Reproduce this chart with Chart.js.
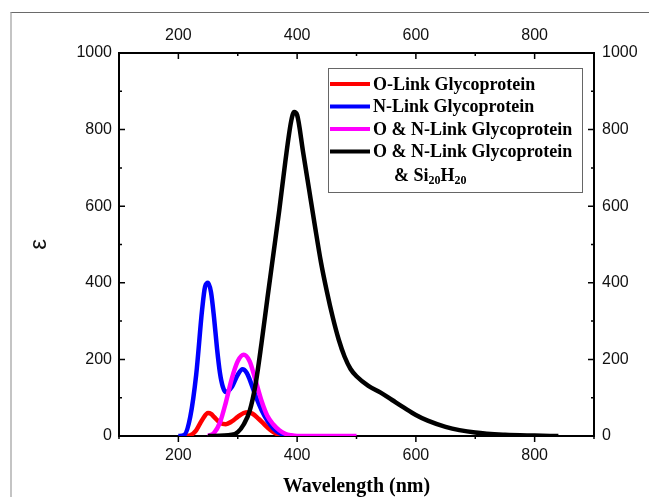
<!DOCTYPE html>
<html>
<head>
<meta charset="utf-8">
<script src="https://cdn.jsdelivr.net/npm/chart.js@4/dist/chart.umd.min.js"></script>
<style>
  body { margin: 0; background: #fff; }
  #wrap { position: relative; width: 649px; height: 497px; overflow: hidden; }
  #frame { position: absolute; left: 10px; top: 12px; width: 700px; height: 600px;
           border-left: 2px solid #c4c4c4; border-top: 1px solid #6a6a6a; }
  #box { position: absolute; left: 0; top: 0; width: 649px; height: 497px; }
</style>
</head>
<body>
<div id="wrap">
  <div id="frame"></div>
  <div id="box"><canvas id="chart"></canvas></div>
</div>
<script>
// wavelength (nm) / epsilon pairs
const redX = [210, 220, 230, 240, 250, 255, 260, 270, 280, 290, 300, 310, 318, 325, 335, 345, 355, 365, 375, 385];
const redY = [0, 2, 15, 42, 60, 58, 50, 35, 31, 38, 50, 60, 62, 58, 45, 30, 16, 6, 1, 0];

const blueX = [200, 210, 220, 230, 240, 245, 250, 255, 260, 265, 270, 275, 280, 290, 300, 308, 315, 320, 330, 340, 350, 360, 370, 380, 390];
const blueY = [0, 3, 50, 160, 330, 390, 400, 375, 310, 230, 165, 128, 115, 128, 160, 174, 165, 148, 105, 68, 40, 20, 8, 2, 0];

const magentaX = [250, 260, 270, 280, 290, 300, 310, 320, 330, 340, 350, 360, 370, 380, 390, 400, 450, 500];
const magentaY = [0, 8, 35, 88, 150, 195, 212, 195, 145, 92, 52, 30, 15, 6, 2, 0, 0, 0];

const blackX = [250, 290, 300, 310, 320, 330, 340, 350, 360, 370, 380, 390, 395, 400, 410, 420, 430, 440, 450, 460, 470, 480, 490, 500, 520, 540, 560, 580, 600, 620, 650, 700, 750, 800, 840];
const blackY = [0, 3, 10, 30, 65, 135, 242, 360, 475, 590, 715, 822, 846, 838, 742, 645, 548, 455, 378, 310, 252, 207, 175, 156, 131, 114, 94, 74, 55, 40, 24, 9, 3, 1, 0];

const seriesNames = ['O-Link Glycoprotein', 'N-Link Glycoprotein', 'O & N-Link Glycoprotein', 'O & N-Link Glycoprotein'];
const seriesColors = ['#ff0000', '#0000ff', '#ff00ff', '#000000'];
// second line of the last legend entry: [text, isSubscript]
const lastNameLine2 = [['& Si', false], ['20', true], ['H', false], ['20', true]];

const xTickLabels = [200, 400, 600, 800];
const yTickLabels = [0, 200, 400, 600, 800, 1000];

const toPoints = (xs, ys) => xs.map((x, i) => ({ x: x, y: ys[i] }));

const tickFont = { family: '"Liberation Sans", Arial, sans-serif', size: 16 };
const serif = '"Liberation Serif", "Times New Roman", serif';

// ticks: inward on left/top/right, outward at the bottom
const tickMarks = {
  id: 'tickMarks',
  afterDraw(chart) {
    const { ctx } = chart;
    const { left, right, top, bottom } = chart.chartArea;
    const xs = chart.scales.x;
    const ys = chart.scales.y;
    ctx.save();
    ctx.strokeStyle = '#000';
    ctx.lineWidth = 1.5;
    ctx.beginPath();
    xs.ticks.forEach(t => {
      const px = xs.getPixelForValue(t.value);
      const len = t.value % 200 === 0 ? 6 : 3;
      ctx.moveTo(px, bottom); ctx.lineTo(px, bottom + len);
      ctx.moveTo(px, top); ctx.lineTo(px, top + len);
    });
    ys.ticks.forEach(t => {
      const py = ys.getPixelForValue(t.value);
      const len = t.value % 200 === 0 ? 6 : 3;
      ctx.moveTo(left, py); ctx.lineTo(left + len, py);
      ctx.moveTo(right, py); ctx.lineTo(right - len, py);
    });
    ctx.stroke();
    ctx.restore();
  }
};

// boxed legend with the subscript line
const boxLegend = {
  id: 'boxLegend',
  afterDatasetsDraw(chart) {
    const { ctx } = chart;
    const ca = chart.chartArea;
    const bx = ca.left + 209, by = 68, bw = 254, bh = 124;
    ctx.save();
    ctx.fillStyle = '#fff';
    ctx.fillRect(bx, by, bw, bh);
    ctx.strokeStyle = '#666';
    ctx.lineWidth = 1;
    ctx.strokeRect(bx + 0.5, by + 0.5, bw, bh);

    ctx.font = 'bold 18px ' + serif;
    ctx.textBaseline = 'middle';
    ctx.fillStyle = '#000';
    seriesNames.forEach((name, i) => {
      const yy = by + 16 + i * 22.5;
      ctx.strokeStyle = seriesColors[i];
      ctx.lineWidth = 4;
      ctx.beginPath();
      ctx.moveTo(bx + 2, yy);
      ctx.lineTo(bx + 42, yy);
      ctx.stroke();
      ctx.fillText(name, bx + 45, yy + 1);
    });

    let tx = bx + 66;
    const ty = by + 16 + 4 * 22.5 + 2;
    lastNameLine2.forEach(([txt, sub]) => {
      ctx.font = sub ? 'bold 12px ' + serif : 'bold 18px ' + serif;
      ctx.fillText(txt, tx, sub ? ty + 5 : ty);
      tx += ctx.measureText(txt).width;
    });
    ctx.restore();
  }
};

const axisBorder = { display: true, color: '#000', width: 2 };

new Chart(document.getElementById('chart'), {
  type: 'line',
  data: {
    datasets: [
      { label: seriesNames[0], data: toPoints(redX, redY), borderColor: seriesColors[0], order: 4 },
      { label: seriesNames[1], data: toPoints(blueX, blueY), borderColor: seriesColors[1], order: 3 },
      { label: seriesNames[2], data: toPoints(magentaX, magentaY), borderColor: seriesColors[2], order: 2 },
      { label: seriesNames[3], data: toPoints(blackX, blackY), borderColor: seriesColors[3], order: 1 }
    ]
  },
  options: {
    responsive: true,
    maintainAspectRatio: false,
    animation: false,
    events: [],
    layout: { padding: 0 },
    elements: {
      line: { borderWidth: 4.5, fill: false, cubicInterpolationMode: 'monotone' },
      point: { radius: 0 }
    },
    plugins: { legend: { display: false }, tooltip: { enabled: false } },
    scales: {
      x: {
        type: 'linear', position: 'bottom', min: 100, max: 900,
        grid: { display: false, drawTicks: false },
        border: axisBorder,
        ticks: {
          stepSize: 100, padding: 10, color: '#111', font: tickFont, maxRotation: 0, autoSkip: false,
          callback: v => xTickLabels.includes(v) ? v : ''
        },
        title: {
          display: true, text: 'Wavelength (nm)', color: '#000', padding: 0,
          font: { family: serif, size: 20, weight: 'bold', lineHeight: 1 }
        },
        afterFit: s => { s.height = 61; }
      },
      x2: {
        type: 'linear', position: 'top', min: 100, max: 900,
        grid: { display: false, drawTicks: false },
        border: axisBorder,
        ticks: {
          stepSize: 100, padding: 8, color: '#111', font: tickFont, maxRotation: 0, autoSkip: false,
          callback: v => xTickLabels.includes(v) ? v : ''
        },
        afterFit: s => { s.height = 53; }
      },
      y: {
        type: 'linear', position: 'left', min: 0, max: 1000,
        grid: { display: false, drawTicks: false },
        border: axisBorder,
        ticks: {
          stepSize: 100, padding: 7, color: '#111', font: tickFont, autoSkip: false,
          callback: v => yTickLabels.includes(v) ? v : ''
        },
        title: {
          display: true, text: 'ε', color: '#111', padding: { top: 27, bottom: 0 },
          font: { family: '"Liberation Sans", Arial, sans-serif', size: 24, lineHeight: 1 }
        },
        afterFit: s => { s.width = 119; }
      },
      y2: {
        type: 'linear', position: 'right', min: 0, max: 1000,
        grid: { display: false, drawTicks: false },
        border: axisBorder,
        ticks: {
          stepSize: 100, padding: 8, color: '#111', font: tickFont, autoSkip: false,
          callback: v => yTickLabels.includes(v) ? v : ''
        },
        afterFit: s => { s.width = 55; }
      }
    }
  },
  plugins: [tickMarks, boxLegend]
});
</script>
</body>
</html>
